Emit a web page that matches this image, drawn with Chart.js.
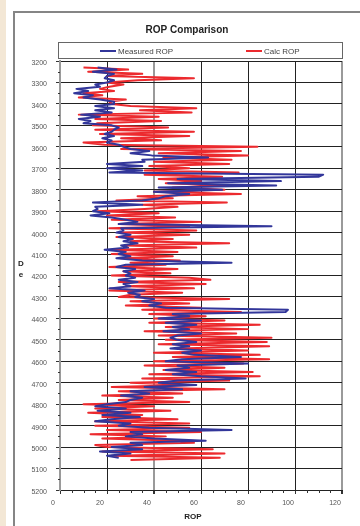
<!DOCTYPE html>
<html>
<head>
<meta charset="utf-8">
<script src="https://cdn.jsdelivr.net/npm/chart.js@4.4.1/dist/chart.umd.min.js"></script>
<style>
  html, body { margin: 0; padding: 0; background: #fff; }
  body { width: 360px; height: 526px; position: relative; overflow: hidden; }
  .strip { position: absolute; left: 0; top: 0; width: 6px; height: 526px; background: #f3e7d5; }
  .frame { position: absolute; left: 13px; top: 11px; width: 420px; height: 620px; border-left: 2px solid #858585; border-top: 2px solid #858585; }
  #chart { position: absolute; left: 0; top: 0; }
</style>
</head>
<body>
<div class="strip"></div>
<div class="frame"></div>
<canvas id="chart" width="360" height="526"></canvas>
<script>
// Depth (ft), one reading every 10 ft
const depths = [
  3230, 3240, 3250, 3260, 3270, 3280, 3290,
  3300, 3310, 3320, 3330, 3340, 3350, 3360, 3370, 3380, 3390,
  3400, 3410, 3420, 3430, 3440, 3450, 3460, 3470, 3480, 3490,
  3500, 3510, 3520, 3530, 3540, 3550, 3560, 3570, 3580, 3590,
  3600, 3610, 3620, 3630, 3640, 3650, 3660, 3670, 3680, 3690,
  3700, 3710, 3720, 3730, 3740, 3750, 3760, 3770, 3780, 3790,
  3800, 3810, 3820, 3830, 3840, 3850, 3860, 3870, 3880, 3890,
  3900, 3910, 3920, 3930, 3940, 3950, 3960, 3970, 3980, 3990,
  4000, 4010, 4020, 4030, 4040, 4050, 4060, 4070, 4080, 4090,
  4100, 4110, 4120, 4130, 4140, 4150, 4160, 4170, 4180, 4190,
  4200, 4210, 4220, 4230, 4240, 4250, 4260, 4270, 4280, 4290,
  4300, 4310, 4320, 4330, 4340, 4350, 4360, 4370, 4380, 4390,
  4400, 4410, 4420, 4430, 4440, 4450, 4460, 4470, 4480, 4490,
  4500, 4510, 4520, 4530, 4540, 4550, 4560, 4570, 4580, 4590,
  4600, 4610, 4620, 4630, 4640, 4650, 4660, 4670, 4680, 4690,
  4700, 4710, 4720, 4730, 4740, 4750, 4760, 4770, 4780, 4790,
  4800, 4810, 4820, 4830, 4840, 4850, 4860, 4870, 4880, 4890,
  4900, 4910, 4920, 4930, 4940, 4950, 4960, 4970, 4980, 4990,
  5000, 5010, 5020, 5030, 5040, 5050, 5060
];

// Measured ROP (blue), ends at 5050 ft
const measuredRop = [
  16, 24, 14, 23, 20, 19, 23,
  20, 15, 17, 7, 12, 6, 14, 10, 17, 23,
  23, 15, 23, 15, 22, 9, 17, 8, 13, 10,
  22, 25, 23, 22, 19, 23, 18, 22, 20, 25,
  27, 30, 38, 30, 39, 63, 35, 36, 20, 35,
  20, 35, 21, 112, 110, 50, 94, 46, 92, 42,
  69, 40, 55, 45, 42, 35, 14, 35, 15, 16,
  14, 21, 13, 22, 28, 33, 25, 90, 26, 27,
  24, 30, 25, 31, 27, 33, 26, 29, 19, 28,
  25, 30, 24, 35, 73, 28, 24, 32, 27, 30,
  28, 32, 25, 33, 27, 30, 21, 36, 29, 34,
  32, 40, 35, 43, 38, 45, 97, 96, 48, 55,
  42, 60, 45, 58, 48, 55, 44, 60, 50, 47,
  50, 58, 48, 55, 47, 60, 52, 57, 77, 52,
  45, 80, 50, 55, 45, 58, 48, 60, 79, 50,
  42, 58, 36, 52, 30, 38, 26, 35, 30, 28,
  20, 15, 28, 16, 30, 18, 34, 22, 15, 30,
  25, 38, 73, 30, 35, 28, 40, 62, 30, 35,
  22, 35, 17, 30, 20, 25
];

// Calculated ROP (red)
const calcRop = [
  10, 29, 12, 35, 20, 57, 33,
  20, 27, 21, 17, 23, 10, 18, 8, 28, 21,
  22, 30, 58, 34, 56, 8, 42, 15, 43, 16,
  14, 46, 15, 57, 17, 55, 26, 43, 10, 19,
  84, 26, 77, 42, 80, 44, 73, 40, 72, 38,
  55, 36, 76, 36, 69, 42, 60, 45, 72, 48,
  70, 40, 77, 33, 48, 24, 71, 35, 50, 36,
  16, 42, 20, 49, 22, 60, 25, 55, 21, 58,
  26, 55, 24, 48, 30, 72, 28, 58, 23, 50,
  22, 48, 26, 51, 30, 45, 21, 50, 27, 47,
  22, 55, 64, 25, 62, 28, 57, 21, 52, 30,
  25, 72, 30, 55, 28, 60, 35, 77, 38, 62,
  40, 70, 38, 85, 45, 80, 36, 75, 42, 90,
  45, 88, 42, 89, 50, 80, 40, 85, 48, 89,
  40, 78, 36, 70, 44, 82, 38, 85, 35, 72,
  30, 55, 22, 70, 25, 52, 18, 48, 25, 55,
  10, 40, 15, 47, 12, 35, 18, 50, 15, 55,
  15, 55, 20, 60, 13, 45, 18, 50, 57, 15,
  20, 65, 18, 70, 22, 68, 30
];

const depthTicks = [3200, 3300, 3400, 3500, 3600, 3700, 3800, 3900, 4000, 4100, 4200,
  4300, 4400, 4500, 4600, 4700, 4800, 4900, 5000, 5100, 5200];
const ropTicks = [0, 20, 40, 60, 80, 100, 120];

const seriesNames = ['Measured ROP', 'Calc ROP'];
const seriesColors = ['#32369a', '#ec2a2e'];

const FONT = '"Liberation Sans", Arial, sans-serif';

// title, legend box, axis titles and minor ticks
const decorations = {
  id: 'decorations',
  afterDraw(chart) {
    const c = chart.ctx;
    const xs = chart.scales.x, ys = chart.scales.y;
    c.save();

    // minor tick marks
    c.strokeStyle = '#333';
    c.lineWidth = 1;
    c.beginPath();
    for (let v = 5; v < 120; v += 5) {
      if (v % 20 === 0) continue;
      const px = Math.round(xs.getPixelForValue(v)) + 0.5;
      c.moveTo(px, ys.bottom);
      c.lineTo(px, ys.bottom + 3);
    }
    for (let i = 0; i < depthTicks.length - 1; i++) {
      const py = Math.round(ys.getPixelForValue((depthTicks[i] + depthTicks[i + 1]) / 2)) + 0.5;
      c.moveTo(xs.left - 2, py);
      c.lineTo(xs.left, py);
    }
    c.stroke();

    // chart title
    c.fillStyle = '#222';
    c.textAlign = 'center';
    c.textBaseline = 'middle';
    c.font = 'bold 10px ' + FONT;
    c.fillText('ROP Comparison', 187, 30);

    // legend box
    c.strokeStyle = '#666';
    c.lineWidth = 1;
    c.strokeRect(58.5, 42.5, 284, 16);
    const legendX = [100, 246];
    c.font = '8px ' + FONT;
    c.textAlign = 'left';
    seriesNames.forEach((name, i) => {
      c.strokeStyle = seriesColors[i];
      c.lineWidth = 2;
      c.beginPath();
      c.moveTo(legendX[i], 51);
      c.lineTo(legendX[i] + 16, 51);
      c.stroke();
      c.fillStyle = '#444';
      c.fillText(name, legendX[i] + 18, 52);
    });

    // axis titles
    c.fillStyle = '#222';
    c.font = 'bold 8px ' + FONT;
    c.textAlign = 'center';
    c.fillText('D', 21, 264);
    c.fillText('e', 21, 275);
    c.fillText('ROP', 193, 517);

    c.restore();
  }
};

const ctx = document.getElementById('chart').getContext('2d');

new Chart(ctx, {
  type: 'scatter',
  data: {
    datasets: [
      {
        label: seriesNames[0],
        data: measuredRop.map((v, i) => ({ x: v, y: depths[i] })),
        borderColor: seriesColors[0],
        backgroundColor: seriesColors[0],
      },
      {
        label: seriesNames[1],
        data: calcRop.map((v, i) => ({ x: v, y: depths[i] })),
        borderColor: seriesColors[1],
        backgroundColor: seriesColors[1],
      },
    ],
  },
  options: {
    responsive: false,
    animation: false,
    devicePixelRatio: 1,
    showLine: true,
    layout: { padding: { top: 61, right: 18, left: 0, bottom: 0 } },
    elements: {
      point: { radius: 0, hoverRadius: 0 },
      line: { borderWidth: 2, tension: 0, borderJoinStyle: 'round' },
    },
    plugins: {
      legend: { display: false },
      title: { display: false },
      tooltip: { enabled: false },
    },
    scales: {
      x: {
        type: 'linear',
        min: 0,
        max: 120,
        afterFit: (s) => { s.height = 36; },
        afterBuildTicks: (s) => { s.ticks = ropTicks.map((v) => ({ value: v })); },
        ticks: {
          font: { family: FONT, size: 7 },
          color: '#555',
          padding: 5,
          labelOffset: -7,
          maxRotation: 0,
        },
        grid: {
          color: (c) => (c.tick && (c.tick.value === 40 || c.tick.value === 120) ? '#9a9a9a' : '#222'),
          lineWidth: (c) => (c.tick && (c.tick.value === 40 || c.tick.value === 120) ? 2 : 1),
          tickColor: '#333',
          tickLength: 4,
        },
        border: { color: '#222', width: 1 },
      },
      y: {
        type: 'linear',
        reverse: true,
        min: 3200,
        max: 5200,
        afterFit: (s) => { s.width = 60; },
        afterBuildTicks: (s) => { s.ticks = depthTicks.map((v) => ({ value: v })); },
        ticks: {
          callback: (v) => v,
          font: { family: FONT, size: 7 },
          color: '#555',
          padding: 9,
          labelOffset: 2,
        },
        grid: {
          color: '#222',
          tickColor: '#333',
          tickLength: 4,
        },
        border: { color: '#9a9a9a', width: 2 },
      },
    },
  },
  plugins: [decorations],
});
</script>
</body>
</html>
